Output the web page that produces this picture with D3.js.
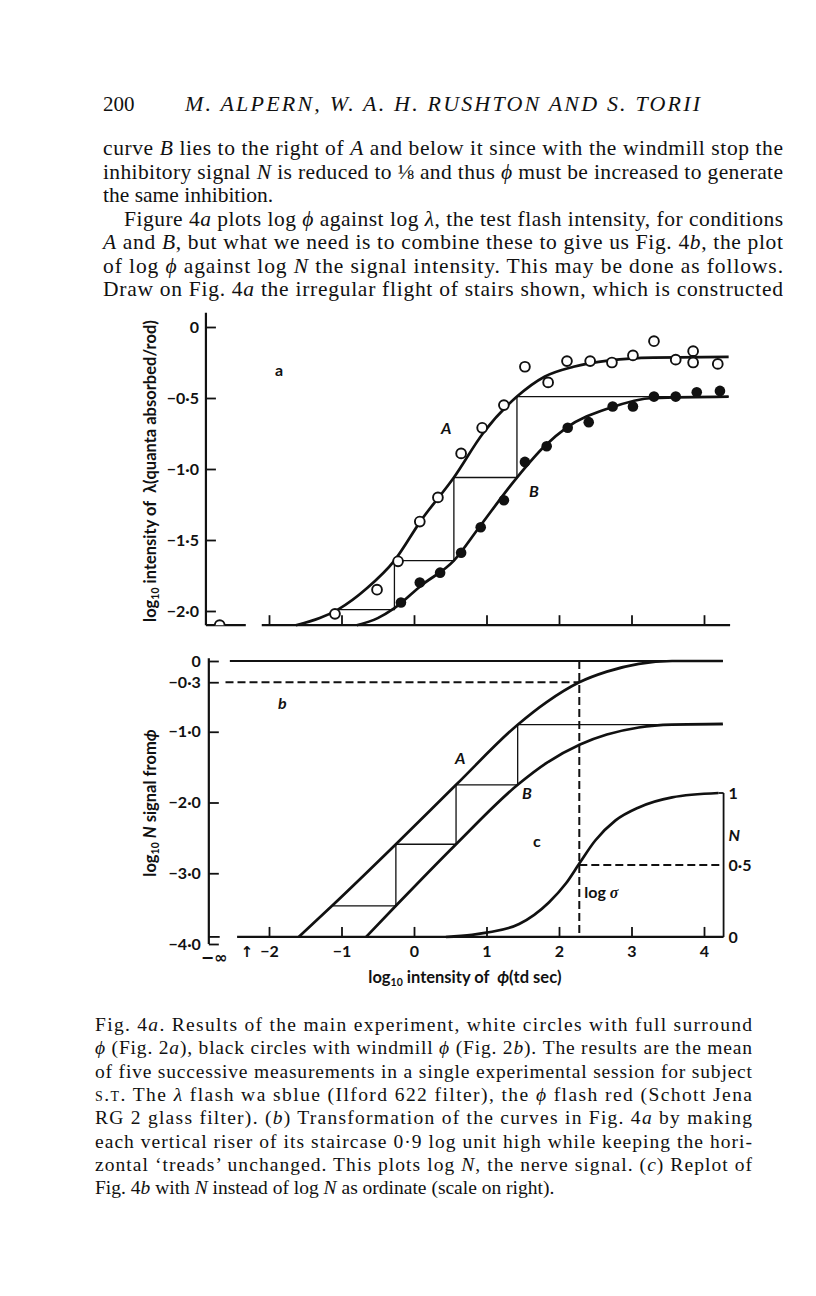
<!DOCTYPE html>
<html>
<head>
<meta charset="utf-8">
<script src="https://cdn.jsdelivr.net/npm/d3@7"></script>
<style>
  body { margin: 0; background: #fff; }
  svg { display: block; }
</style>
</head>
<body>
<script>
// ---- data ----
var xTicks = [-2, -1, 0, 1, 2, 3, 4];
var xTickLabels = ['−2', '−1', '0', '1', '2', '3', '4'];
var aTicks = [0, -0.5, -1.0, -1.5, -2.0];
var bTicks = [0, -0.3, -1.0, -2.0, -3.0, -4.0];
var cTicks = [0, 0.5, 1];
var cTickLabels = ['0', '0·5', '1'];

// fig 4a: log phi, log lambda
var openA = [[-2.68, -2.1], [-1.09, -2.02], [-0.51, -1.85], [-0.22, -1.65], [0.08, -1.37],
  [0.33, -1.20], [0.65, -0.89], [0.94, -0.71], [1.24, -0.55], [1.53, -0.28], [1.85, -0.39],
  [2.11, -0.24], [2.43, -0.24], [2.73, -0.25], [3.02, -0.20], [3.31, -0.10], [3.61, -0.23],
  [3.85, -0.17], [3.85, -0.25], [4.19, -0.26]];
var filledB = [[-0.18, -1.94], [0.08, -1.80], [0.36, -1.73], [0.65, -1.59], [0.92, -1.41],
  [1.24, -1.22], [1.53, -0.95], [1.83, -0.84], [2.12, -0.71], [2.41, -0.67], [2.74, -0.56],
  [3.02, -0.56], [3.31, -0.49], [3.61, -0.49], [3.90, -0.46], [4.22, -0.45]];
var curveA = [[-1.63, -2.10], [-1.3, -2.05], [-1.05, -1.99], [-0.65, -1.84], [-0.27, -1.645],
  [0.1, -1.36], [0.55, -1.06], [0.95, -0.75], [1.42, -0.49], [1.8, -0.35], [2.2, -0.28],
  [2.7, -0.235], [3.3, -0.215], [4.34, -0.21]];
var curveB = [[-0.79, -2.10], [-0.5, -2.05], [-0.27, -1.98], [0.1, -1.82], [0.55, -1.645],
  [0.9, -1.41], [1.42, -1.06], [1.8, -0.84], [2.1, -0.71], [2.7, -0.57], [3.3, -0.50], [4.34, -0.49]];
var stairXa = [-1.05, -0.27, 0.55, 1.42, 4.34];
var stairYa = [-1.99, -1.645, -1.06, -0.49];

// fig 4b: log phi, log N
var lineA = [[-1.59, -3.90], [-1.13, -3.46], [-0.25, -2.59], [0.58, -1.75], [1.43, -0.90],
  [1.83, -0.58], [2.28, -0.30], [2.66, -0.15], [3.1, -0.04], [3.56, 0], [4.26, 0]];
var lineB = [[-0.66, -3.90], [-0.25, -3.46], [0.58, -2.59], [1.43, -1.75], [1.83, -1.44],
  [2.29, -1.18], [2.66, -1.04], [3.1, -0.94], [3.56, -0.90], [4.26, -0.89]];
var stairXb = [-1.12, -0.25, 0.58, 1.43, 4.26];
var stairYb = [-3.46, -2.59, -1.75, -0.90];
var logSigma = 2.28;

// fig 4c: log phi, N
var curveC = [[0.44, 0.0], [0.8, 0.015], [1.0, 0.03], [1.45, 0.09], [1.86, 0.24], [2.1, 0.375],
  [2.28, 0.51], [2.5, 0.67], [2.78, 0.81], [3.1, 0.90], [3.56, 0.97], [4.2, 1.0]];

// page text (_x_ = italic, ^x^ = small caps)
var header = ['200', 'M. ALPERN, W. A. H. RUSHTON AND S. TORII'];
var bodyLines = [
  'curve _B_ lies to the right of _A_ and below it since with the windmill stop the',
  'inhibitory signal _N_ is reduced to ⅛ and thus _ϕ_ must be increased to generate',
  'the same inhibition.',
  'Figure 4_a_ plots log _ϕ_ against log _λ_, the test flash intensity, for conditions',
  '_A_ and _B_, but what we need is to combine these to give us Fig. 4_b_, the plot',
  'of log _ϕ_ against log _N_ the signal intensity. This may be done as follows.',
  'Draw on Fig. 4_a_ the irregular flight of stairs shown, which is constructed'
];
var captionLines = [
  'Fig. 4_a_. Results of the main experiment, white circles with full surround',
  '_ϕ_ (Fig. 2_a_), black circles with windmill _ϕ_ (Fig. 2_b_). The results are the mean',
  'of five successive measurements in a single experimental session for subject',
  '^s.t.^ The _λ_ flash wa sblue (Ilford 622 filter), the _ϕ_ flash red (Schott Jena',
  'RG 2 glass filter). (_b_) Transformation of the curves in Fig. 4_a_ by making',
  'each vertical riser of its staircase 0·9 log unit high while keeping the hori-',
  'zontal ‘treads’ unchanged. This plots log _N_, the nerve signal. (_c_) Replot of',
  'Fig. 4_b_ with _N_ instead of log _N_ as ordinate (scale on right).'
];

// ---- page ----
var W = 816, H = 1296;
var svg = d3.select('body').append('svg')
    .attr('width', W)
    .attr('height', H)
    .style('font-family', 'Lato, sans-serif');

var ink = '#111';
var serif = '"Liberation Serif", serif';

// text line with italic / small-cap runs, optionally justified
function textLine(s, x, y, len, size, justify) {
  var t = svg.append('text')
      .attr('x', x).attr('y', y)
      .style('font-family', serif)
      .style('font-size', size + 'px')
      .attr('fill', ink);
  s.split(/(_[^_]*_|\^[^^]*\^)/).forEach(function(part) {
    if (!part) return;
    if (part[0] === '_') {
      t.append('tspan').style('font-style', 'italic').text(part.slice(1, -1));
    } else if (part[0] === '^') {
      t.append('tspan').style('font-variant', 'small-caps').text(part.slice(1, -1));
    } else {
      t.append('tspan').text(part);
    }
  });
  if (justify) t.attr('textLength', len).attr('lengthAdjust', 'spacing');
  return t;
}

svg.append('text').attr('x', 103).attr('y', 111)
    .style('font-family', serif).style('font-size', '21px')
    .attr('fill', ink).text(header[0]);
svg.append('text').attr('x', 185).attr('y', 111)
    .style('font-family', serif).style('font-size', '22px')
    .style('font-style', 'italic')
    .attr('textLength', 515).attr('lengthAdjust', 'spacing')
    .attr('fill', ink).text(header[1]);

bodyLines.forEach(function(s, i) {
  var indent = i === 3 ? 21 : 0;
  textLine(s, 103 + indent, 155 + i * 23.5, 680 - indent, 21.5, i !== 2);
});

captionLines.forEach(function(s, i) {
  textLine(s, 95, 1031 + i * 23.3, 657, 19.5, i !== captionLines.length - 1);
});

// ---- scales ----
var x = d3.scaleLinear().domain([-2, 4]).range([269, 704]);
var ya = d3.scaleLinear().domain([0, -2]).range([327, 611]);
var yb = d3.scaleLinear().domain([0, -4]).range([661, 944]);
var yc = d3.scaleLinear().domain([0, 1]).range([937, 793]);

function decFmt(d) {
  if (d === 0) return '0';
  return (d < 0 ? '−' : '') + Math.abs(d).toFixed(1).replace('.', '·');
}

function styleAxis(g) {
  g.select('.domain').remove();
  g.selectAll('.tick line').attr('stroke', ink).attr('stroke-width', 1.8);
  g.selectAll('.tick text').attr('fill', ink)
      .style('font-family', 'Lato, sans-serif')
      .style('font-size', '16px').style('font-weight', 700);
}

var thick = 2.7, thin = 1.3;
var lblSize = '16px';

// ================= panel a =================
var pa = svg.append('g');

pa.append('clipPath').attr('id', 'clipA')
  .append('rect').attr('x', 200).attr('y', 300).attr('width', 540).attr('height', ya(-2.1) - 300);

pa.append('g')
    .attr('transform', 'translate(' + x(-2.87) + ',0)')
    .call(d3.axisLeft(ya).tickValues(aTicks).tickSize(-10).tickPadding(7).tickFormat(decFmt))
    .call(styleAxis);

pa.append('g')
    .attr('transform', 'translate(0,' + ya(-2.1) + ')')
    .call(d3.axisBottom(x).tickValues(xTicks).tickSize(-10).tickFormat(''))
    .call(styleAxis);

// axis lines
pa.append('line').attr('x1', x(-2.87)).attr('x2', x(-2.87))
    .attr('y1', ya(0.1)).attr('y2', ya(-2.1))
    .attr('stroke', ink).attr('stroke-width', 2.2);
pa.append('line').attr('x1', x(-2.87)).attr('x2', x(-2.32))
    .attr('y1', ya(-2.1)).attr('y2', ya(-2.1))
    .attr('stroke', ink).attr('stroke-width', 2.2);
pa.append('line').attr('x1', x(-2.1)).attr('x2', x(4.36))
    .attr('y1', ya(-2.1)).attr('y2', ya(-2.1))
    .attr('stroke', ink).attr('stroke-width', 2.2);

var lineGenA = d3.line()
    .x(function(d) { return x(d[0]); })
    .y(function(d) { return ya(d[1]); })
    .curve(d3.curveMonotoneX);

// staircase
var stairPtsA = [];
stairYa.forEach(function(v, i) {
  stairPtsA.push([stairXa[i], v], [stairXa[i + 1], v]);
});
pa.append('path')
    .attr('d', d3.line().x(function(d) { return x(d[0]); }).y(function(d) { return ya(d[1]); })(stairPtsA))
    .attr('fill', 'none').attr('stroke', ink).attr('stroke-width', thin);

[curveA, curveB].forEach(function(c) {
  pa.append('path').attr('d', lineGenA(c))
      .attr('fill', 'none').attr('stroke', ink).attr('stroke-width', thick);
});

pa.append('g').attr('clip-path', 'url(#clipA)')
  .selectAll('circle.open').data(openA).enter().append('circle')
    .attr('cx', function(d) { return x(d[0]); })
    .attr('cy', function(d) { return ya(d[1]); })
    .attr('r', 4.9)
    .attr('fill', '#fff').attr('stroke', ink).attr('stroke-width', 1.9);

pa.selectAll('circle.filled').data(filledB).enter().append('circle')
    .attr('cx', function(d) { return x(d[0]); })
    .attr('cy', function(d) { return ya(d[1]); })
    .attr('r', 5.3)
    .attr('fill', ink);

pa.append('text').attr('x', 275).attr('y', 376).text('a')
    .style('font-size', lblSize).style('font-weight', 700).attr('fill', ink);
pa.append('text').attr('x', 441).attr('y', 434).text('A')
    .style('font-size', lblSize).style('font-style', 'italic').style('font-weight', 700).attr('fill', ink);
pa.append('text').attr('x', 529).attr('y', 497).text('B')
    .style('font-size', lblSize).style('font-style', 'italic').style('font-weight', 700).attr('fill', ink);

// y label a
var la = pa.append('text')
    .attr('transform', 'translate(156,471) rotate(-90)')
    .attr('text-anchor', 'middle')
    .style('font-size', '16.5px').style('font-weight', 700).attr('fill', ink);
la.append('tspan').text('log');
la.append('tspan').attr('dy', 3).style('font-size', '10.5px').text('10');
la.append('tspan').attr('dy', -3).text(' intensity of \u00a0λ(quanta absorbed/rod)');

// ================= panel b =================
var pb = svg.append('g');

pb.append('g')
    .attr('transform', 'translate(' + x(-2.83) + ',0)')
    .call(d3.axisLeft(yb).tickValues(bTicks).tickSize(-10).tickPadding(8).tickFormat(decFmt))
    .call(styleAxis);

pb.append('g')
    .attr('transform', 'translate(0,' + yb(-3.9) + ')')
    .call(d3.axisBottom(x).tickValues(xTicks).tickSize(-10).tickPadding(9)
      .tickFormat(function(d, i) { return xTickLabels[i]; }))
    .call(styleAxis);

pb.append('line').attr('x1', x(-2.83)).attr('x2', x(-2.83))
    .attr('y1', yb(0.04)).attr('y2', yb(-4))
    .attr('stroke', ink).attr('stroke-width', 2.2);
pb.append('line').attr('x1', x(-2.83)).attr('x2', x(-2.68))
    .attr('y1', yb(-3.9)).attr('y2', yb(-3.9))
    .attr('stroke', ink).attr('stroke-width', 1.8);
pb.append('line').attr('x1', x(-2.44)).attr('x2', x(4.27))
    .attr('y1', yb(-3.9)).attr('y2', yb(-3.9))
    .attr('stroke', ink).attr('stroke-width', 2.2);

// right N axis (fig c)
pb.append('line').attr('x1', x(4.27)).attr('x2', x(4.27))
    .attr('y1', yc(1)).attr('y2', yc(0))
    .attr('stroke', ink).attr('stroke-width', 1.8);
pb.append('line').attr('x1', x(4.2)).attr('x2', x(4.27))
    .attr('y1', yc(1)).attr('y2', yc(1))
    .attr('stroke', ink).attr('stroke-width', 1.8);
pb.selectAll('text.ctick').data(cTicks).enter().append('text')
    .attr('x', x(4.27) + 5)
    .attr('y', function(d) { return yc(d); })
    .attr('dy', '0.35em')
    .text(function(d, i) { return cTickLabels[i]; })
    .style('font-size', lblSize).style('font-weight', 700).attr('fill', ink);
pb.append('text').attr('x', x(4.27) + 5).attr('y', 841).text('N')
    .style('font-size', lblSize).style('font-style', 'italic').style('font-weight', 700).attr('fill', ink);

// horizontal line at 0 and dashed guides
pb.append('line').attr('x1', x(-2.54)).attr('x2', x(4.26))
    .attr('y1', yb(0)).attr('y2', yb(0))
    .attr('stroke', ink).attr('stroke-width', 2);
pb.append('line').attr('x1', x(-2.6)).attr('x2', x(logSigma))
    .attr('y1', yb(-0.3)).attr('y2', yb(-0.3))
    .attr('stroke', ink).attr('stroke-width', 2).attr('stroke-dasharray', '8,4');
pb.append('line').attr('x1', x(logSigma)).attr('x2', x(logSigma))
    .attr('y1', yb(0)).attr('y2', yb(-3.9))
    .attr('stroke', ink).attr('stroke-width', 2).attr('stroke-dasharray', '8,4');
pb.append('line').attr('x1', x(logSigma)).attr('x2', x(4.27))
    .attr('y1', yc(0.5)).attr('y2', yc(0.5))
    .attr('stroke', ink).attr('stroke-width', 2).attr('stroke-dasharray', '8,4');

var stairPtsB = [];
stairYb.forEach(function(v, i) {
  stairPtsB.push([stairXb[i], v], [stairXb[i + 1], v]);
});
pb.append('path')
    .attr('d', d3.line().x(function(d) { return x(d[0]); }).y(function(d) { return yb(d[1]); })(stairPtsB))
    .attr('fill', 'none').attr('stroke', ink).attr('stroke-width', thin);

var lineGenB = d3.line()
    .x(function(d) { return x(d[0]); })
    .y(function(d) { return yb(d[1]); })
    .curve(d3.curveMonotoneX);
[lineA, lineB].forEach(function(c) {
  pb.append('path').attr('d', lineGenB(c))
      .attr('fill', 'none').attr('stroke', ink).attr('stroke-width', thick);
});

pb.append('path')
    .attr('d', d3.line()
      .x(function(d) { return x(d[0]); })
      .y(function(d) { return yc(d[1]); })
      .curve(d3.curveMonotoneX)(curveC))
    .attr('fill', 'none').attr('stroke', ink).attr('stroke-width', thick);

// labels b
pb.append('text').attr('x', 278).attr('y', 709).text('b')
    .style('font-size', lblSize).style('font-style', 'italic').style('font-weight', 700).attr('fill', ink);
pb.append('text').attr('x', 455).attr('y', 764).text('A')
    .style('font-size', lblSize).style('font-style', 'italic').style('font-weight', 700).attr('fill', ink);
pb.append('text').attr('x', 522).attr('y', 799).text('B')
    .style('font-size', lblSize).style('font-style', 'italic').style('font-weight', 700).attr('fill', ink);
pb.append('text').attr('x', 533).attr('y', 847).text('c')
    .style('font-size', lblSize).style('font-weight', 700).attr('fill', ink);
var ls = pb.append('text').attr('x', x(logSigma) + 5).attr('y', 898)
    .style('font-size', lblSize).style('font-weight', 700).attr('fill', ink);
ls.append('tspan').text('log ');
ls.append('tspan').style('font-style', 'italic').style('font-family', serif).text('σ');

pb.append('text').attr('x', 214).attr('y', 963).attr('text-anchor', 'middle').text('−∞')
    .style('font-family', '"DejaVu Sans", sans-serif')
    .style('font-size', '16px').style('font-weight', 700).attr('fill', ink);
pb.append('text').attr('x', 247).attr('y', 957).attr('text-anchor', 'middle').text('↑')
    .style('font-family', '"DejaVu Sans", sans-serif')
    .style('font-size', '15px').style('font-weight', 700).attr('fill', ink);

// y label b
var lb = pb.append('text')
    .attr('transform', 'translate(156,803) rotate(-90)')
    .attr('text-anchor', 'middle')
    .style('font-size', '16.5px').style('font-weight', 700).attr('fill', ink);
lb.append('tspan').text('log');
lb.append('tspan').attr('dy', 3).style('font-size', '10.5px').text('10');
lb.append('tspan').attr('dy', -3).text(' ');
lb.append('tspan').style('font-style', 'italic').text('N');
lb.append('tspan').text(' signal from');
lb.append('tspan').style('font-style', 'italic').text('ϕ');

// x label
var lx = pb.append('text')
    .attr('x', 465).attr('y', 983)
    .attr('text-anchor', 'middle')
    .style('font-size', '16.5px').style('font-weight', 700).attr('fill', ink);
lx.append('tspan').text('log');
lx.append('tspan').attr('dy', 3).style('font-size', '10.5px').text('10');
lx.append('tspan').attr('dy', -3).text(' intensity of \u00a0');
lx.append('tspan').style('font-style', 'italic').text('ϕ');
lx.append('tspan').text('(td sec)');
</script>
</body>
</html>
